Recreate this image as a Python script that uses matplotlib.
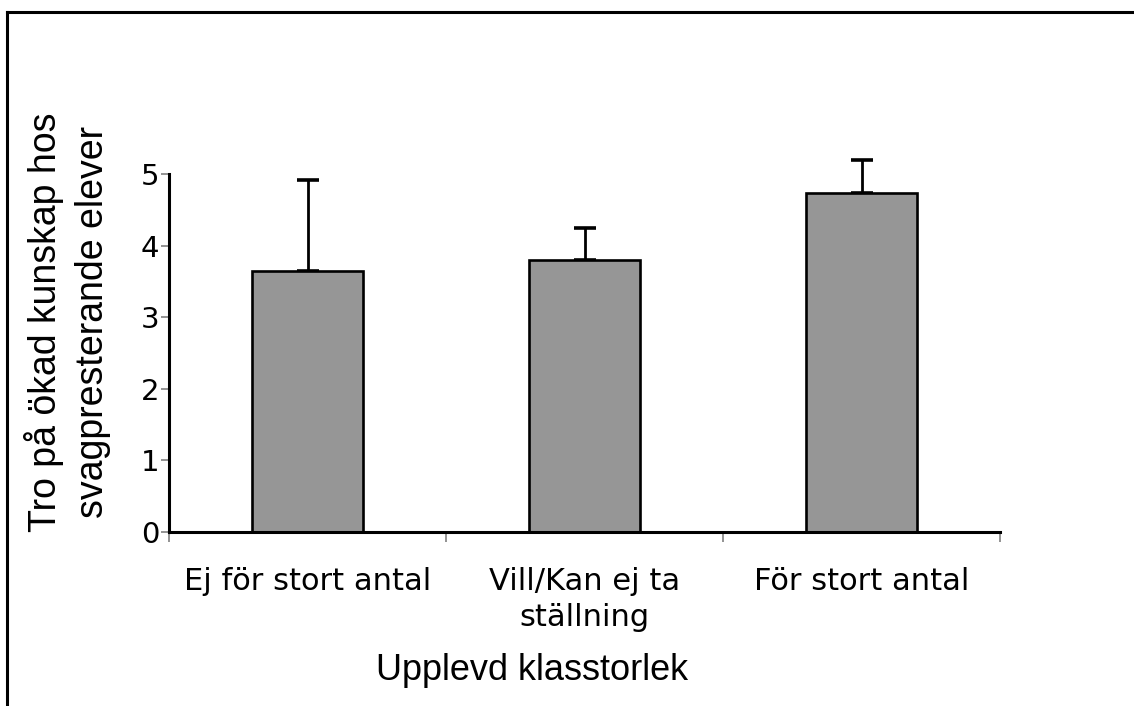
import matplotlib.pyplot as plt
from matplotlib.lines import Line2D

# Data
kategorier = ['Ej för stort antal', 'Vill/Kan ej ta\nställning', 'För stort antal']
medel = [3.65, 3.80, 4.74]
fel_upp = [1.27, 0.45, 0.46]
y_ticks = [0, 1, 2, 3, 4, 5]

fig = plt.figure(figsize=(11.34, 7.06), dpi=100)
ax = fig.add_axes([0.149, 0.2465, 0.733, 0.507])

x = range(len(kategorier))
ax.bar(x, medel, width=0.4, color='#969696', edgecolor='black', linewidth=1.9, zorder=2)
ax.errorbar(x, medel, yerr=[[0] * len(medel), fel_upp], fmt='none', ecolor='black',
            elinewidth=2.0, capsize=8, capthick=2.6, clip_on=False, zorder=1)

ax.set_xlim(-0.5, len(kategorier) - 0.5)
ax.set_ylim(0, 5)
ax.set_yticks(y_ticks)

# category labels centred under bars, ticks at the boundaries
ax.set_xticks([i + 0.5 for i in range(-1, len(kategorier))])
ax.set_xticklabels([])
ax.set_xticks(list(x), minor=True)
ax.set_xticklabels(kategorier, minor=True, fontsize=22, family='DejaVu Sans')
for lbl in ax.get_xticklabels(minor=True):
    lbl.set_linespacing(1.3)
ax.tick_params(axis='x', which='minor', length=0, pad=25)
ax.tick_params(axis='x', which='major', length=7, width=1.2, color='#808080', direction='out')
ax.tick_params(axis='y', length=6, width=1.2, color='#808080', labelsize=21, pad=1)

for s in ['top', 'right']:
    ax.spines[s].set_visible(False)
for s in ['left', 'bottom']:
    ax.spines[s].set_linewidth(2.2)

fig.text(0.469, 1 - 680 / 706, 'Upplevd klasstorlek', fontsize=26,
         family='Liberation Sans', ha='center', va='baseline')
fig.text(0.0595, 1 - 322 / 706, 'Tro på ökad kunskap hos\nsvagpresterande elever',
         fontsize=27, family='Liberation Sans', rotation=90, ha='center', va='center',
         linespacing=1.4, multialignment='center')

# frame lines at top and left
fig.add_artist(Line2D([7 / 1134, 7 / 1134], [0, 1 - 12 / 706], color='black', linewidth=2.2,
                      transform=fig.transFigure))
fig.add_artist(Line2D([7 / 1134, 1], [1 - 12 / 706, 1 - 12 / 706], color='black', linewidth=2.2,
                      transform=fig.transFigure))

fig.savefig('out.png', dpi=100)
